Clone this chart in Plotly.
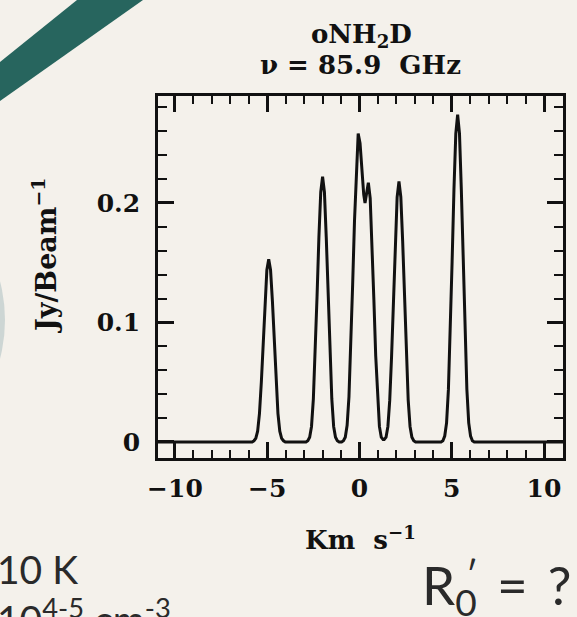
import plotly.graph_objects as go

# ---- spectrum of the oNH2D line (velocity in km/s, flux in Jy/beam) ----
velocity_kms = [
    -10.92,
    -5.82, -5.72, -5.62, -5.52, -5.42, -5.32, -5.22, -5.12, -5.02,
    -4.92, -4.82, -4.72, -4.62, -4.52, -4.42, -4.32, -4.22, -4.12, -4.02,
    -2.90, -2.80, -2.70, -2.60, -2.50, -2.40, -2.30, -2.20, -2.10,
    -2.00, -1.90, -1.80, -1.70, -1.60, -1.50, -1.40, -1.30, -1.20, -1.10,
    -0.97, -0.87, -0.77, -0.67, -0.57, -0.47, -0.37, -0.27, -0.17,
    -0.07, 0.03, 0.13, 0.23, 0.30, 0.38, 0.48, 0.58, 0.68, 0.78, 0.88,
    0.98, 1.08, 1.18, 1.28, 1.34,
    1.44, 1.54, 1.64, 1.74, 1.84, 1.94, 2.04,
    2.14, 2.24, 2.34, 2.44, 2.54, 2.64, 2.74, 2.84, 2.94, 3.04,
    4.42, 4.52, 4.62, 4.72, 4.82, 4.92, 5.02, 5.12, 5.22,
    5.32, 5.42, 5.52, 5.62, 5.72, 5.82, 5.92, 6.02, 6.12, 6.22,
    11.03,
]
flux_jy_beam = [
    0.000,
    0.000, 0.001, 0.003, 0.009, 0.024, 0.050, 0.084, 0.118, 0.144,
    0.153, 0.144, 0.118, 0.084, 0.050, 0.024, 0.009, 0.003, 0.001, 0.000,
    0.000, 0.001, 0.004, 0.013, 0.036, 0.073, 0.122, 0.171, 0.209,
    0.222, 0.209, 0.171, 0.122, 0.073, 0.036, 0.013, 0.004, 0.001, 0.000,
    0.000, 0.001, 0.004, 0.014, 0.038, 0.079, 0.132, 0.185, 0.230,
    0.258, 0.250, 0.228, 0.207, 0.200, 0.209, 0.217, 0.204, 0.167, 0.119, 0.072,
    0.035, 0.013, 0.004, 0.002, 0.002,
    0.004, 0.013, 0.035, 0.072, 0.120, 0.168, 0.205,
    0.218, 0.205, 0.168, 0.120, 0.072, 0.035, 0.013, 0.004, 0.001, 0.000,
    0.000, 0.001, 0.005, 0.016, 0.044, 0.090, 0.151, 0.211, 0.258,
    0.274, 0.258, 0.211, 0.151, 0.090, 0.044, 0.016, 0.005, 0.001, 0.000,
    0.000,
]

x_tick_vals = [-10, -5, 0, 5, 10]
x_tick_text = ["\u221210", "\u22125", "0", "5", "10"]
y_tick_vals = [0, 0.1, 0.2]
y_tick_text = ["0", "0.1", "0.2"]

x_range = [-10.92, 11.03]
y_range = [-0.0134, 0.2895]

# ---- page geometry (pixels) ----
W, H = 577, 617
ML, MR, MT, MB = 158, 14, 96, 159
PW = W - ML - MR
PH = H - MT - MB
PLOT_BOTTOM = H - MB


def px_x(x):
    return (x - ML) / PW


def px_y(y):
    return (PLOT_BOTTOM - y) / PH


BG = "#F4F1EB"
TEAL = "#27655E"
INK = "#111111"
TEXT = "#2A2A2A"
SERIF = "DejaVu Serif"
SANS = "Lato"

fig = go.Figure()
fig.add_trace(go.Scatter(
    x=velocity_kms, y=flux_jy_beam, mode="lines",
    line=dict(color=INK, width=3),
    hoverinfo="skip", showlegend=False,
))

axis_common = dict(
    showline=True, linewidth=2.6, linecolor=INK, mirror="allticks",
    ticks="inside", ticklen=16, tickwidth=2.6, tickcolor=INK,
    showgrid=False, zeroline=False, automargin=False,
    tickfont=dict(family=SERIF, size=25, color=INK, weight="bold"),
)

fig.update_xaxes(
    **axis_common,
    range=x_range, tickmode="array", tickvals=x_tick_vals, ticktext=x_tick_text,
    ticklabelstandoff=6,
    minor=dict(dtick=1, tick0=0, ticks="inside", ticklen=8, tickwidth=2.2,
               tickcolor=INK),
    title=dict(text="Km\u00a0\u00a0s<sup>\u22121</sup>", standoff=30,
               font=dict(family=SERIF, size=26, color=INK, weight="bold")),
)
fig.update_yaxes(
    **axis_common,
    range=y_range, tickmode="array", tickvals=y_tick_vals, ticktext=y_tick_text,
    ticklabelstandoff=10,
    minor=dict(dtick=0.02, tick0=0, ticks="inside", ticklen=9, tickwidth=2.2,
               tickcolor=INK),
)

# y-axis label, placed beside the upper part of the frame
fig.add_annotation(text="Jy/Beam<sup>\u22121</sup>", xref="paper", yref="paper",
                   x=px_x(44), y=px_y(255), xanchor="center", yanchor="middle",
                   textangle=-90, showarrow=False,
                   font=dict(family=SERIF, size=27, color=INK, weight="bold"))

# slide decorations: diagonal band and the edge of a disc on the left
band = [(77, 0), (143, 0), (0, 101), (0, 62)]
path = "M " + " L ".join(f"{px_x(x):.4f},{px_y(y):.4f}" for x, y in band) + " Z"
fig.add_shape(type="path", path=path, xref="paper", yref="paper",
              fillcolor=TEAL, line=dict(width=0), layer="below")
fig.add_shape(type="circle", xref="paper", yref="paper",
              x0=px_x(-304), x1=px_x(5), y0=px_y(474), y1=px_y(166),
              fillcolor="#CDD6D4", line=dict(width=0), layer="below")

# plot heading
fig.add_annotation(text="oNH<sub>2</sub>D", xref="paper", yref="paper",
                   x=px_x(361), y=px_y(36), xanchor="center", yanchor="middle",
                   showarrow=False,
                   font=dict(family=SERIF, size=26, color=INK, weight="bold"))
fig.add_annotation(text="\u03bd\u00a0=\u00a085.9\u00a0\u00a0GHz",
                   xref="paper", yref="paper",
                   x=px_x(360), y=px_y(65), xanchor="center", yanchor="middle",
                   showarrow=False,
                   font=dict(family=SERIF, size=26, color=INK, weight="bold"))

# slide text below the plot
slide_font = dict(family=SANS, size=39, color=TEXT)
fig.add_annotation(text="10 K", xref="paper", yref="paper",
                   x=px_x(-5), y=px_y(569), xanchor="left", yanchor="middle",
                   showarrow=False, font=slide_font)
fig.add_annotation(text="10<sup>4-5</sup> cm<sup>-3</sup>", xref="paper", yref="paper",
                   x=px_x(-5), y=px_y(616), xanchor="left", yanchor="middle",
                   showarrow=False, font=slide_font)
big_font = dict(family=SANS, size=53, color=TEXT)
fig.add_annotation(text="R<sub>0</sub>\u00a0\u2009=\u00a0\u2009?", xref="paper", yref="paper",
                   x=px_x(420), y=px_y(588), xanchor="left", yanchor="middle",
                   showarrow=False, font=big_font)
fig.add_annotation(text="\u2032", xref="paper", yref="paper",
                   x=px_x(464), y=px_y(574), xanchor="left", yanchor="middle",
                   showarrow=False, font=dict(family=SANS, size=36, color=TEXT))

fig.update_layout(
    width=W, height=H,
    margin=dict(l=ML, r=MR, t=MT, b=MB, pad=0),
    paper_bgcolor=BG, plot_bgcolor=BG,
    showlegend=False,
)

fig.write_html("out.html")
